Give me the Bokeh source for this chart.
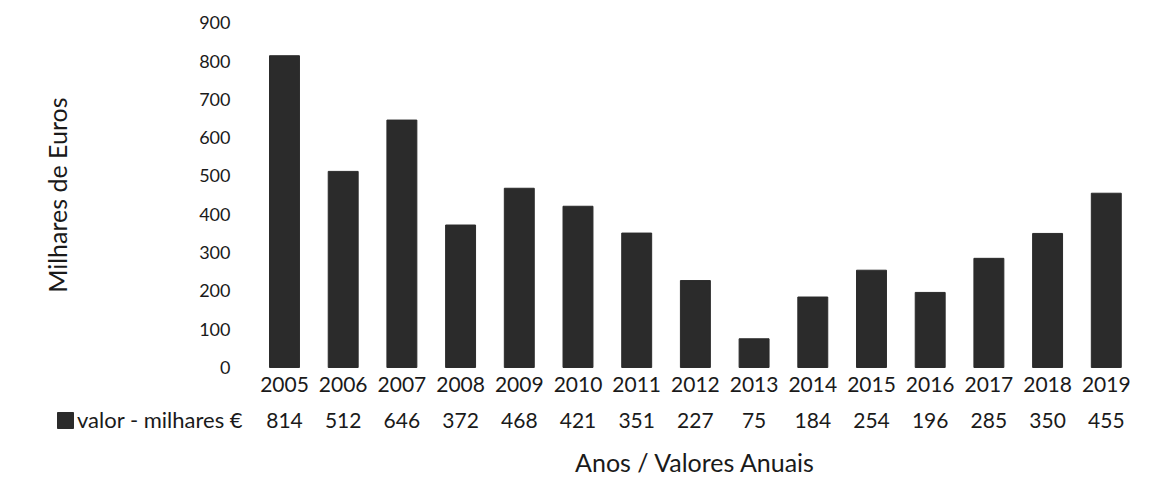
import math
from bokeh.plotting import figure
from bokeh.models import Range1d, Legend, LegendItem, ColumnDataSource
from bokeh.core.properties import value
from bokeh.embed import file_html
from bokeh.resources import INLINE

years = ["2005", "2006", "2007", "2008", "2009", "2010", "2011", "2012",
         "2013", "2014", "2015", "2016", "2017", "2018", "2019"]
values = [814, 512, 646, 372, 468, 421, 351, 227, 75, 184, 254, 196, 285, 350, 455]
y_ticks = [0, 100, 200, 300, 400, 500, 600, 700, 800, 900]
series_name = "valor - milhares €"
x_title = "Anos / Valores Anuais"
y_title = "Milhares de Euros"

FONT = value("Lato")
TXT = "#1a1a1a"
BAR = "#2b2b2b"

# category positions along the x scale (one slot per year)
xpos = list(range(len(years)))
src = ColumnDataSource(dict(x=xpos, year=years, top=values,
                            label=[str(v) for v in values]))

# frame fills the whole canvas; the data table and titles live inside it
p = figure(width=1145, height=486, x_range=Range1d(-4.838, 14.668),
           y_range=Range1d(-310.7, 958.2), output_backend="svg",
           toolbar_location=None, x_axis_location=None, y_axis_location=None,
           min_border=0)
p.outline_line_color = None
p.background_fill_color = "white"
p.border_fill_color = "white"
p.xgrid.grid_line_color = None
p.ygrid.grid_line_color = None

bars = p.vbar(x="x", top="top", width=0.51, color=BAR, source=src)

# value-axis tick labels
p.text(x=[-0.92] * len(y_ticks), y=y_ticks, text=[str(t) for t in y_ticks],
       text_font=FONT, text_font_size="18px", text_color=TXT,
       text_align="right", text_baseline="middle")

# value-axis title
p.text(x=[-3.87], y=[450], text=[y_title], angle=math.pi / 2,
       text_font=FONT, text_font_size="25px", text_color=TXT,
       text_align="center", text_baseline="middle")

# data table: years row and values row
p.text(x="x", y=-44.4, text="year", source=src,
       text_font=FONT, text_font_size="21px", text_color=TXT,
       text_align="center", text_baseline="middle")
p.text(x="x", y=-138.4, text="label", source=src,
       text_font=FONT, text_font_size="21px", text_color=TXT,
       text_align="center", text_baseline="middle")

# category-axis title
p.text(x=[(len(years) - 1) / 2], y=[-248], text=[x_title],
       text_font=FONT, text_font_size="25px", text_color=TXT,
       text_align="center", text_baseline="middle")

# legend key of the data table, left of the values row
legend = Legend(items=[LegendItem(label=series_name, renderers=[bars])],
                location=(55, 53), orientation="horizontal",
                glyph_width=20, glyph_height=20, label_standoff=2,
                label_text_font="Lato", label_text_font_size="22px",
                label_text_color=TXT, label_height=20,
                padding=0, margin=0, spacing=0,
                border_line_color=None, background_fill_alpha=0)
p.add_layout(legend, "center")

open("out.html", "w").write(file_html(p, INLINE))
